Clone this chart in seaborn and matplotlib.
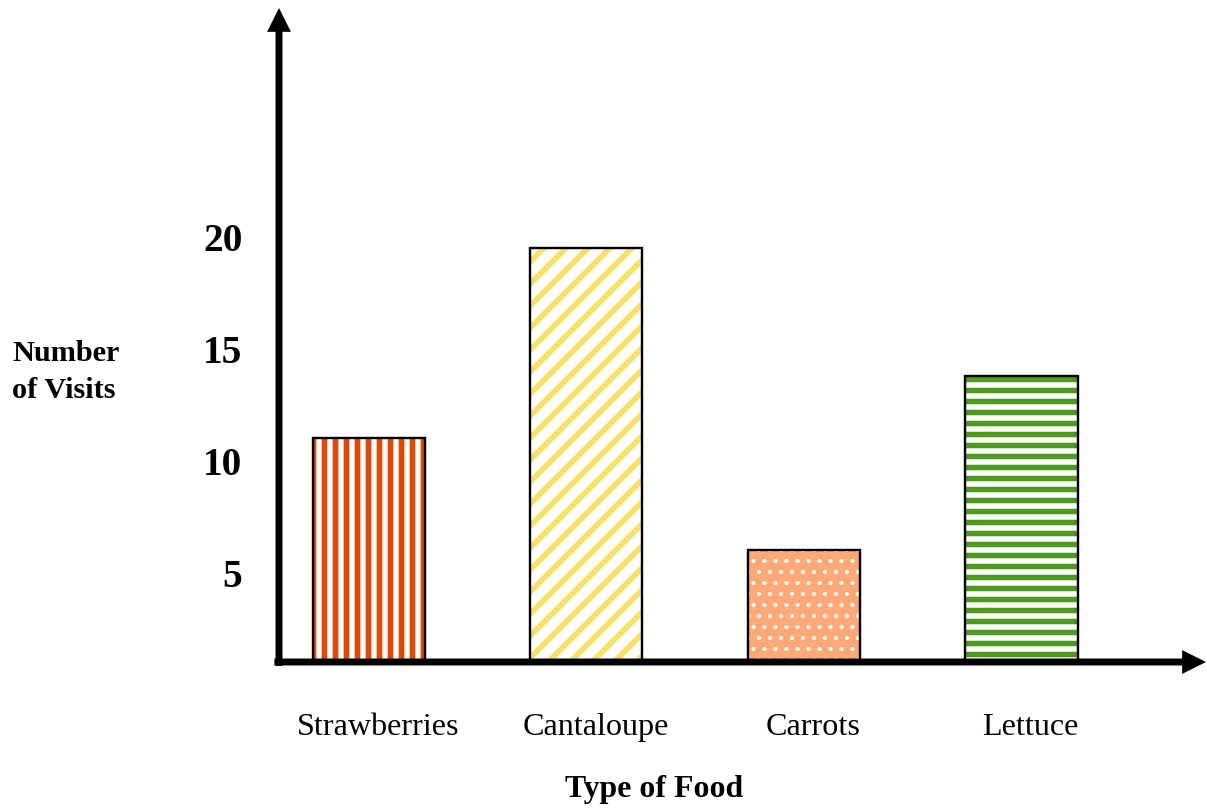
import matplotlib
matplotlib.use("Agg")
import matplotlib.pyplot as plt
import seaborn as sns
from matplotlib.transforms import ScaledTranslation

# Data
foods = ["Strawberries", "Cantaloupe", "Carrots", "Lettuce"]
visits = [10, 18.5, 5, 12.75]
y_ticks = [5, 10, 15, 20]

# Bar styling: background fill, stripe/dot colour, hatch pattern
fill_colors = ["white", "white", "#ffa878", "white"]
hatch_colors = ["#dc4b05", "#fbe066", "white", "#4f9a1e"]
hatches = ["||", "//", "..", "--"]
hatch_widths = [3.1, 3.1, 1.0, 3.0]

sns.set_style("white")
plt.rcParams["font.family"] = ["Liberation Serif", "DejaVu Serif"]
plt.rcParams["text.color"] = "black"
plt.rcParams["xtick.color"] = "black"
plt.rcParams["ytick.color"] = "black"
plt.rcParams["hatch.linewidth"] = 3.1

DPI = 132
fig = plt.figure(figsize=(1207 / DPI, 808 / DPI), dpi=DPI)
ax = fig.add_axes([279 / 1207, (808 - 662) / 808, (1206 - 279) / 1207, (662 - 8) / 808])

# hatched layer
sns.barplot(x=foods, y=visits, hue=foods, palette=fill_colors, legend=False,
            width=0.515, saturation=1, linewidth=0, errorbar=None, ax=ax)
for patch, hc, h, hw in zip(ax.patches, hatch_colors, hatches, hatch_widths):
    patch.set_edgecolor(hc)
    patch.set_hatch(h)
    if hasattr(patch, "set_hatch_linewidth"):
        patch.set_hatch_linewidth(hw)

# black outline layer
sns.barplot(x=foods, y=visits, fill=False, color="black", linewidth=1.3,
            width=0.515, errorbar=None, ax=ax)

ax.set_xlim(-0.413, 3.848)
ax.set_ylim(0, 29.2)
ax.set_yticks(y_ticks)
ax.set_yticklabels([str(t) for t in y_ticks], fontsize=21.5, fontweight="bold")
ax.tick_params(axis="y", length=0, pad=20)
ax.tick_params(axis="x", length=0, pad=28, labelsize=17.5)
for lab in ax.get_yticklabels():
    lab.set_transform(lab.get_transform() + ScaledTranslation(0, -23 / DPI, fig.dpi_scale_trans))
for lab in ax.get_xticklabels():
    lab.set_transform(lab.get_transform() + ScaledTranslation(9 / DPI, 0, fig.dpi_scale_trans))
for s in ax.spines.values():
    s.set_visible(False)
ax.grid(False)
ax.set_xlabel("")
ax.set_ylabel("")

# arrow axes
arrow = dict(facecolor="black", edgecolor="none", width=3.8, headwidth=13,
             headlength=13, shrink=0)
ax.annotate("", xy=(1.0, 0), xytext=(-0.005, 0), xycoords="axes fraction",
            arrowprops=arrow)
ax.annotate("", xy=(0, 1.0), xytext=(0, -0.006), xycoords="axes fraction",
            arrowprops=arrow)

fig.text(12 / 1207, 1 - 372 / 808, "Number\nof Visits", ha="left", va="center",
         fontsize=16.5, fontweight="bold", linespacing=1.45)
fig.text(654 / 1207, 1 - 790 / 808, "Type of Food", ha="center", va="center",
         fontsize=17.4, fontweight="bold")

fig.savefig("out.png", dpi=DPI)
